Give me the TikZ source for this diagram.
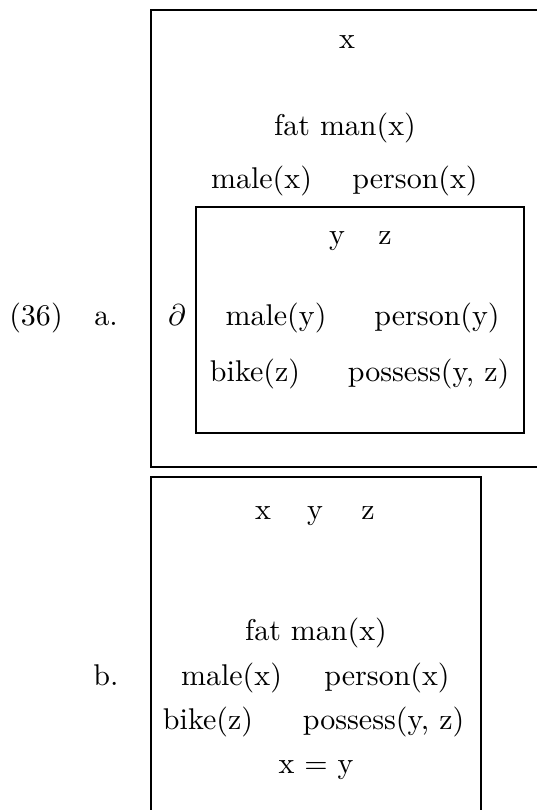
\documentclass[tikz,border=0pt]{standalone}
\usepackage{amsmath,amssymb}
\usetikzlibrary{positioning}
\tikzset{
  cond/.style={anchor=base,inner sep=0pt},
  boxline/.style={line width=0.95pt}
}

\begin{document}
\begin{tikzpicture}[x=0.3333pt,y=-0.3333pt]
  \useasboundingbox (0,0) rectangle (536,810);

  % Example number and labels
  \node[cond] (num) at (36,326) {(36)};
  \node[cond] (la) at (106,326) {a.};
  \node[cond] (lb) at (106,685) {b.};

  % Box a (right edge runs off the page)
  \draw[boxline] (560,10) -- (151,10) -- (151,467) -- (560,467);
  \node[cond] (ax) at (347,49) {x};
  \node[cond] (afat) at (345,136) {fat man(x)};
  \node[cond] (amale) at (261.5,189) {male(x)};
  \node[cond] (aperson) at (415,189) {person(x)};

  % Embedded box
  \draw[boxline] (196,207) rectangle (524,433);
  \node[cond] (iy) at (337,245) {y};
  \node[cond] (iz) at (385,245) {z};
  \node[cond] (del) at (177,326) {$\partial$};
  \node[cond] (imale) at (276,326) {male(y)};
  \node[cond] (iperson) at (437,326) {person(y)};
  \node[cond] (ibike) at (255,381) {bike(z)};
  \node[cond] (iposs) at (428.5,381) {possess(y, z)};

  % Box b (bottom edge runs off the page)
  \draw[boxline] (151,830) -- (151,477) -- (481,477) -- (481,830);
  \node[cond] (bx) at (263,519) {x};
  \node[cond] (by) at (315,519) {y};
  \node[cond] (bz) at (368,519) {z};
  \node[cond] (bfat) at (316,640) {fat man(x)};
  \node[cond] (bmale) at (231.5,685) {male(x)};
  \node[cond] (bperson) at (387,685) {person(x)};
  \node[cond] (bbike) at (208,729) {bike(z)};
  \node[cond] (bposs) at (383.5,729) {possess(y, z)};
  \node[cond] (beq) at (316,773) {x = y};
\end{tikzpicture}
\end{document}
